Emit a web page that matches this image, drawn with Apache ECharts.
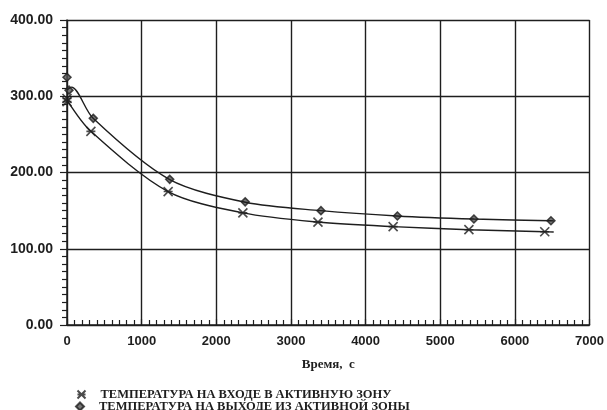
<!DOCTYPE html>
<html>
<head>
<meta charset="utf-8">
<script src="https://cdn.jsdelivr.net/npm/echarts@6/dist/echarts.min.js"></script>
<style>html,body{margin:0;padding:0;background:#fff;}#c{width:607px;height:410px;}</style>
</head>
<body>
<div id="c"></div>
<script>
// Inlet temperature (time s, temperature)
const inletCurve = [[0,295],[320,254],[1355,175],[2360,147],[3360,135],[4370,129],[5385,125],[6400,122.3],[6520,122]];
const inletMarks = [[0,293],[0,297],[320,254],[1355,175],[2356,147],[3362,135],[4369,129],[5384,125],[6400,122.3]];
// Outlet temperature
const outletCurve = [[0,308],[60,312],[350,271],[1370,191],[2390,161],[3400,150],[4420,143],[5450,139],[6480,136.7],[6520,136.5]];
const outletMarks = [[0,325],[27,308],[352,271],[1376,191],[2387,161.5],[3402,150],[4426,143],[5451,139],[6483,136.7]];
const inletName = 'ТЕМПЕРАТУРА НА ВХОДЕ В АКТИВНУЮ ЗОНУ';
const outletName = 'ТЕМПЕРАТУРА НА ВЫХОДЕ ИЗ АКТИВНОЙ ЗОНЫ';
const xTitle = 'Время,  с';

const ink = '#1e1e1e';
const starPath = 'path://M0,0L10,10M10,0L0,10M0,5L10,5';
const diamondPath = 'path://M5,0L10,5L5,10L0,5Z';
const legendText = {color: ink, fontFamily: 'Liberation Serif', fontSize: 12.5, fontWeight: 'bold', lineHeight: 12};
const chart = echarts.init(document.getElementById('c'));
chart.setOption({
  animation: false,
  backgroundColor: '#ffffff',
  grid: {left: 67, right: 16, top: 20, bottom: 85},
  xAxis: {
    type: 'value', min: 0, max: 7000, interval: 1000,
    name: xTitle, nameLocation: 'middle', nameGap: 33,
    nameTextStyle: {color: ink, fontFamily: 'Liberation Serif', fontWeight: 'bold', fontSize: 13},
    axisLine: {lineStyle: {color: ink, width: 1.5}},
    axisTick: {show: true, inside: true, length: 6, lineStyle: {color: ink, width: 1.2}},
    minorTick: {show: true, splitNumber: 10, length: 5, lineStyle: {color: ink, width: 1.2}},
    axisLabel: {color: ink, fontFamily: 'Liberation Sans', fontWeight: 'bold', fontSize: 13, margin: 10,
      formatter: v => String(v)},
    splitLine: {show: true, lineStyle: {color: ink, width: 1.4}}
  },
  yAxis: {
    type: 'value', min: 0, max: 400, interval: 100,
    axisLine: {show: true, lineStyle: {color: ink, width: 1.5}},
    axisTick: {show: true, inside: false, length: 7, lineStyle: {color: ink, width: 1.2}},
    minorTick: {show: true, splitNumber: 10, length: 5, lineStyle: {color: ink, width: 1.2}},
    axisLabel: {color: ink, fontFamily: 'Liberation Sans', fontWeight: 'bold', fontSize: 14, margin: 14,
      formatter: v => v.toFixed(2)},
    splitLine: {show: true, lineStyle: {color: ink, width: 1.4}}
  },
  legend: [
    {left: 70, top: 383, itemWidth: 28, itemHeight: 8, itemGap: 0,
     data: [{name: inletName, icon: starPath}], textStyle: legendText, inactiveColor: ink},
    {left: 70, top: 395, itemWidth: 28, itemHeight: 8, itemGap: 0,
     data: [{name: outletName, icon: diamondPath}], textStyle: legendText, inactiveColor: ink}
  ],
  series: [
    {type: 'line', data: inletCurve, smooth: 0.3, showSymbol: false, silent: true,
     lineStyle: {color: ink, width: 1.4}},
    {type: 'line', data: outletCurve, smooth: 0.3, showSymbol: false, silent: true,
     lineStyle: {color: ink, width: 1.4}},
    {type: 'scatter', name: inletName, data: inletMarks, symbol: starPath, symbolSize: 9,
     itemStyle: {color: 'none', borderColor: ink, borderWidth: 1.6}},
    {type: 'scatter', name: outletName, data: outletMarks, symbol: diamondPath, symbolSize: 8,
     itemStyle: {color: '#555', borderColor: ink, borderWidth: 1.5}}
  ]
});
</script>
</body>
</html>
